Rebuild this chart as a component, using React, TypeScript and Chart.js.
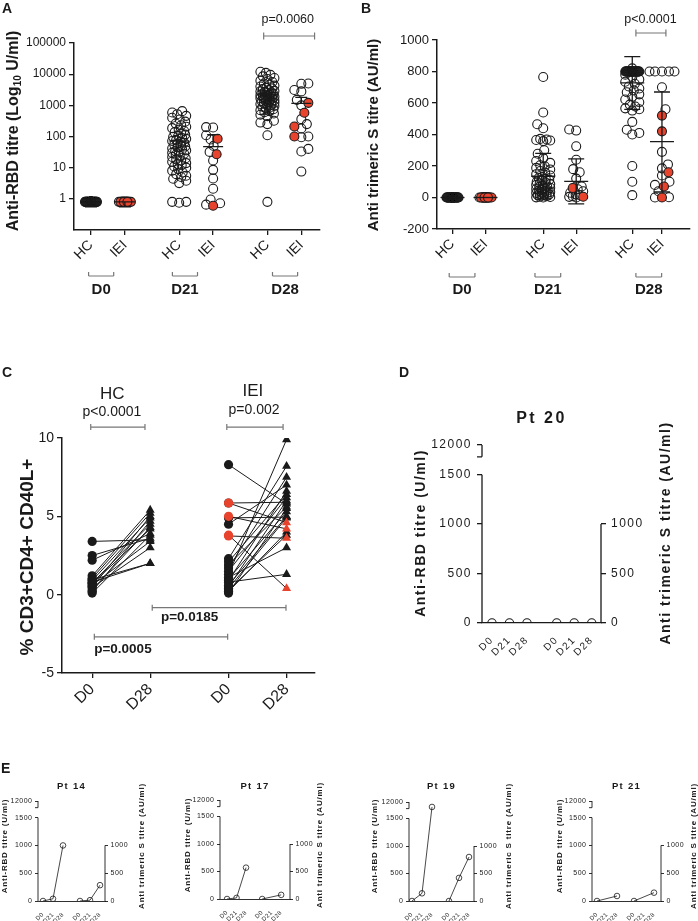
import React, { useEffect, useRef } from 'react';
import { Chart, registerables } from 'chart.js';

Chart.register(...registerables);

const FONT = "'Liberation Sans', Arial, Helvetica, sans-serif";
Chart.defaults.font.family = FONT;
Chart.defaults.color = '#1a1a1a';

const INK = '#1a1a1a';
const RED = '#e8432d';
const GREY = '#777777';
const CLEAR = 'rgba(255,255,255,0)';

/* ================= Panels A & B : categories ================= */
const groupLabels = ['HC', 'IEI', 'HC', 'IEI', 'HC', 'IEI'];
const dayLabels = ['D0', 'D21', 'D28'];
const rbdTicks = [1, 10, 100, 1000, 10000, 100000];
const sTicks = [-200, 0, 200, 400, 600, 800, 1000];

/* Panel A : anti-RBD titre (U/ml) */
const rbdHcD0 = [
  0.8, 0.8, 0.8, 0.8, 0.8, 0.8, 0.8, 0.8, 0.8, 0.8, 0.8, 0.8,
  0.8, 0.8, 0.8, 0.8, 0.8, 0.8, 0.8, 0.8, 0.8, 0.8, 0.8, 0.8,
  0.8, 0.8, 0.8, 0.8, 0.8, 0.8, 0.8, 0.8, 0.8, 0.8, 0.8, 0.8,
  0.8, 0.8, 0.8, 0.8, 0.8, 0.8, 0.8, 0.8, 0.8, 0.8, 0.8, 0.8,
  0.8, 0.8, 0.8, 0.8, 0.8, 0.8, 0.8, 0.8, 0.8, 0.8, 0.8, 0.8,
];
const rbdIeiD0Open = [0.8, 0.8, 0.8, 0.8, 0.8, 0.8, 0.8, 0.8, 0.8, 0.8, 0.8, 0.8, 0.8, 0.8, 0.8];
const rbdIeiD0Red = [0.8, 0.8, 0.8, 0.8];
const rbdHcD21 = [
  650, 590, 520, 460, 400, 350, 300, 260, 230, 205, 185, 165, 150, 138, 126, 115, 105, 98, 90, 84,
  78, 72, 67, 63, 59, 55, 51, 48, 45, 42, 39, 36, 34, 32, 30, 28, 26, 24, 22, 20,
  18.5, 17, 15.5, 14, 13, 12, 11, 10, 9, 8, 7, 6.2, 5.5, 5, 4.4, 3.8, 3.2, 0.8, 0.8, 0.75,
];
const rbdIeiD21Open = [200, 195, 110, 80, 50, 32, 17, 8.5, 4.5, 2.1, 0.95, 0.72, 0.65];
const rbdIeiD21Red = [85, 27, 0.6];
const rbdHcD28 = [
  12000, 11000, 9500, 8500, 7500, 7000, 6200, 5600, 5000, 4600, 4300, 4000, 3700, 3500, 3300, 3100,
  2900, 2800, 2700, 2600, 2500, 2400, 2300, 2200, 2150, 2100, 2000, 1950, 1900, 1850, 1800, 1750,
  1700, 1650, 1600, 1550, 1500, 1450, 1400, 1350, 1300, 1250, 1200, 1150, 1100, 1050, 1000, 950,
  900, 850, 800, 750, 700, 650, 600, 550, 500, 450, 320, 280, 250, 110, 0.8,
];
const rbdIeiD28Open = [5000, 4900, 3100, 2800, 1500, 1000, 360, 250, 180, 100, 95, 40, 33, 7.5];
const rbdIeiD28Red = [1200, 580, 210, 100];
const rbdMean = [0.8, 0.8, 72, 47, 2300, 1150];
const rbdLow = [0.55, 0.55, 72, 47, 520, 1150];
const rbdHigh = [0.8, 0.8, 72, 115, 2300, 1800];

/* Panel B : anti trimeric S titre (AU/ml) */
const sHcD0 = [
  0, 0, 0, 0, 0, 0, 0, 0, 0, 0, 0, 0, 0, 0, 0, 0, 0, 0, 0, 0,
  0, 0, 0, 0, 0, 0, 0, 0, 0, 0, 0, 0, 0, 0, 0, 0, 0, 0, 0, 0,
  0, 0, 0, 0, 0, 0, 0, 0, 0, 0, 0, 0, 0, 0, 0, 0, 0, 0, 0, 0,
];
const sIeiD0Open = [0, 0, 0, 0, 0, 0, 0, 0, 0, 0, 0, 0, 0, 0, 0];
const sIeiD0Red = [0, 0, 0, 0];
const sHcD21 = [
  765, 540, 465, 440, 372, 368, 365, 362, 358, 300, 278, 250, 232, 220, 205, 198, 188, 178, 168, 158,
  148, 140, 130, 124, 118, 112, 106, 100, 95, 90, 85, 80, 75, 70, 66, 62, 58, 54, 50, 46,
  42, 38, 35, 32, 29, 26, 23, 20, 17, 14, 11, 8, 5, 3, 1, 0,
];
const sIeiD21Open = [432, 425, 325, 240, 180, 160, 120, 70, 52, 40, 30, 20, 14, 8, 4, 0];
const sIeiD21Red = [60, 5];
const sHcD28 = [
  820, 800, 800, 800, 800, 800, 800, 800, 800, 800, 800, 800, 800, 800, 800, 800, 800, 800,
  800, 800, 800, 800, 800, 800, 800, 800, 800, 800, 800, 800, 800, 800, 800, 800, 800,
  780, 765, 750, 735, 722, 705, 692, 680, 668, 655, 640, 622, 605, 590, 578, 566, 560, 552,
  480, 430, 410, 400, 200, 100, 15,
];
const sIeiD28Open = [800, 800, 800, 800, 800, 700, 560, 290, 210, 185, 140, 100, 80, 40, 2, 0];
const sIeiD28Red = [520, 420, 160, 70, 0];
const sMean = [0, 0, 135, 103, 728, 355];
const sLow = [0, 0, -10, -40, 560, 35];
const sHigh = [0, 0, 280, 245, 895, 670];

/* ================= Panel C : % CD3+CD4+ CD40L+ ================= */
const cTickLabels = ['D0', 'D28', 'D0', 'D28'];
const cTicks = [-5, 0, 5, 10];
const cHcD0 = [3.4, 2.5, 2.2, 1.2, 1.05, 0.95, 0.9, 0.8, 0.75, 0.7, 0.6, 0.5, 0.45, 0.3, 0.2, 0.1];
const cHcD28 = [3.5, 3.6, 3.9, 5.4, 5.2, 2.0, 4.9, 2.0, 4.5, 4.2, 3.4, 5.0, 3.0, 4.3, 4.7, 3.8];
const cIeiD0 = [8.3, 5.85, 5.85, 5.0, 4.9, 4.5, 3.8, 3.75, 2.3, 2.1, 1.9, 1.7, 1.5, 1.3, 1.1, 1.0, 0.9, 0.8, 0.6, 0.5, 0.4, 0.3, 0.2, 0.1];
const cIeiD28 = [5.8, 5.9, 4.6, 4.2, 4.95, 7.0, 0.4, 3.6, 8.2, 6.4, 5.6, 7.5, 6.2, 9.9, 3.0, 5.3, 6.6, 1.3, 5.0, 6.0, 4.9, 3.8, 4.0, 5.5];
const cIeiRed = [0, 0, 1, 1, 0, 0, 1, 1, 0, 0, 0, 0, 0, 0, 0, 0, 0, 0, 0, 0, 0, 0, 0, 0];

/* ================= Panels D & E : individual patients ================= */
const visitLabels = ['D0', 'D21', 'D28'];
const rbdAxisTicks = [0, 500, 1000, 1500, 12000];
const sAxisTicks = [0, 500, 1000];
const rbdPt20 = [0, 0, 0];
const sPt20 = [0, 0, 0];
const rbdPt14 = [0, 40, 1000];
const sPt14 = [0, 15, 285];
const rbdPt17 = [0, 20, 570];
const sPt17 = [0, null, 75];
const rbdPt19 = [0, 140, 10500];
const sPt19 = [0, 420, 800];
const rbdPt21 = [0, null, 90];
const sPt21 = [0, null, 150];

/* ================= helpers ================= */
type Box = { L: number; T: number; W: number; H: number };
type Area = { l: number; t: number; r: number; b: number };

const fitW = (w: number) => (s: any) => {
  s.width = w; s.paddingTop = 0; s.paddingBottom = 0; s.paddingLeft = 0; s.paddingRight = 0;
};
const fitH = (h: number) => (s: any) => {
  s.height = h; s.paddingLeft = 0; s.paddingRight = 0; s.paddingTop = 0; s.paddingBottom = 0;
};

function txt(ctx: any, s: string, x: number, y: number, font: string, o: any = {}) {
  ctx.save();
  ctx.font = font;
  ctx.fillStyle = o.color || INK;
  ctx.textAlign = o.align || 'center';
  ctx.textBaseline = 'middle';
  ctx.letterSpacing = (o.sp || 0) + 'px';
  ctx.translate(x, y);
  if (o.rot) ctx.rotate(-Math.PI / 2);
  ctx.fillText(s, 0, 0);
  ctx.restore();
}

function bracket(ctx: any, x1: number, x2: number, y: number, up: number, down: number, lw = 1.2) {
  ctx.save();
  ctx.strokeStyle = GREY;
  ctx.lineWidth = lw;
  ctx.beginPath();
  ctx.moveTo(x1, y); ctx.lineTo(x2, y);
  ctx.moveTo(x1, y - up); ctx.lineTo(x1, y + down);
  ctx.moveTo(x2, y - up); ctx.lineTo(x2, y + down);
  ctx.stroke();
  ctx.restore();
}

/* deterministic beeswarm layout (pixel offsets) */
function spreadPx(vals: number[], toPx: (v: number) => number, maxHalf: number) {
  const dmin = 7;
  const order = vals.map((_, i) => i).sort((a, b) => vals[a] - vals[b]);
  const cands: number[] = [0];
  for (let d = 0.5; d <= maxHalf + 1e-9; d += 0.5) cands.push(d, -d);
  const placed: { x: number; y: number }[] = [];
  const off = vals.map(() => 0);
  order.forEach((i, n) => {
    const yp = toPx(vals[i]);
    let best = 0, bestScore = -1;
    for (const c0 of cands) {
      const c = n % 2 ? -c0 : c0;
      let m = Infinity;
      for (const p of placed) {
        const dy = p.y - yp;
        if (Math.abs(dy) >= dmin) continue;
        const d = Math.hypot(p.x - c, dy);
        if (d < m) m = d;
      }
      if (m >= dmin) { best = c; break; }
      if (m > bestScore) { bestScore = m; best = c; }
    }
    off[i] = best;
    placed.push({ x: best, y: yp });
  });
  return off;
}

function swarmSets(pos: number, open: number[], red: number[], toPx: (v: number) => number, maxHalf: number, pxu: number) {
  const n = open.length + red.length;
  const vals: number[] = [];
  const isRed: boolean[] = [];
  let o = 0, k = 0;
  for (let i = 0; i < n; i++) {
    if (k < red.length && i === Math.floor(((k + 0.5) * n) / red.length)) { vals.push(red[k++]); isRed.push(true); }
    else { vals.push(open[o++]); isRed.push(false); }
  }
  const off = spreadPx(vals, toPx, maxHalf);
  const pts = vals.map((v, i) => ({ x: pos + off[i] / pxu, y: v }));
  const base = { pointRadius: 4.5, pointBorderColor: INK, pointBorderWidth: 1.1, showLine: false };
  return [
    { ...base, data: pts.filter((_, i) => !isRed[i]), pointBackgroundColor: CLEAR, order: 2 },
    { ...base, data: pts.filter((_, i) => isRed[i]), pointBackgroundColor: RED, order: 1 },
  ];
}

function errorBars(pos: number[], mean: number[], lo: number[], hi: number[], mh: number, ch: number) {
  return {
    id: 'errbars',
    afterDatasetsDraw(chart: any) {
      const { ctx, scales: { x, y } } = chart;
      ctx.save();
      ctx.strokeStyle = INK;
      ctx.lineWidth = 1.3;
      pos.forEach((p, i) => {
        const cx = x.getPixelForValue(p);
        const ym = y.getPixelForValue(mean[i]);
        const yl = y.getPixelForValue(lo[i]);
        const yh = y.getPixelForValue(hi[i]);
        ctx.beginPath();
        ctx.moveTo(cx - mh, ym); ctx.lineTo(cx + mh, ym);
        if (Math.abs(yl - ym) > 0.5) { ctx.moveTo(cx, ym); ctx.lineTo(cx, yl); ctx.moveTo(cx - ch, yl); ctx.lineTo(cx + ch, yl); }
        if (Math.abs(yh - ym) > 0.5) { ctx.moveTo(cx, ym); ctx.lineTo(cx, yh); ctx.moveTo(cx - ch, yh); ctx.lineTo(cx + ch, yh); }
        ctx.stroke();
      });
      ctx.restore();
    },
  };
}

const axisGrid = (tl: number, lw = 1.3) => ({ display: true, drawOnChartArea: false, drawTicks: true, tickLength: tl, color: INK, lineWidth: lw });
const axisBorder = (lw = 1.5) => ({ display: true, color: INK, width: lw });
const noPlugins = { legend: { display: false }, tooltip: { enabled: false } };

/* ================= Panel A ================= */
const boxA: Box = { L: 0, T: 0, W: 349, H: 322 };
const areaA: Area = { l: 74, t: 43, r: 320, b: 230 };
const posA = [1, 2, 3.6, 4.6, 6.2, 7.2];

function configA() {
  const xMin = 0.5, xMax = 7.75;
  const pxu = (areaA.r - areaA.l) / (xMax - xMin);
  const toPx = (v: number) => Math.log10(v) * 31;
  const groups: [number[], number[]][] = [
    [rbdHcD0, []], [rbdIeiD0Open, rbdIeiD0Red], [rbdHcD21, []],
    [rbdIeiD21Open, rbdIeiD21Red], [rbdHcD28, []], [rbdIeiD28Open, rbdIeiD28Red],
  ];
  const halves = [6, 6, 7, 7, 7, 8.5];
  const datasets = groups.flatMap(([o, r], g) => swarmSets(posA[g], o, r, toPx, halves[g], pxu));
  const annot = {
    id: 'annotA',
    afterDraw(chart: any) {
      const { ctx, scales: { x } } = chart;
      const f1 = 'bold 16px ' + FONT, f2 = 'bold 10px ' + FONT;
      const parts: [string, string, number][] = [['Anti-RBD titre (Log', f1, 0], ['10', f2, 4], [' U/ml)', f1, 0]];
      ctx.save();
      ctx.translate(14, 131);
      ctx.rotate(-Math.PI / 2);
      ctx.fillStyle = INK;
      ctx.textBaseline = 'middle';
      ctx.textAlign = 'left';
      let total = 0;
      parts.forEach(([t, f]) => { ctx.font = f; total += ctx.measureText(t).width; });
      let cx = -total / 2;
      parts.forEach(([t, f, dy]) => { ctx.font = f; ctx.fillText(t, cx, dy); cx += ctx.measureText(t).width; });
      ctx.restore();
      const centers = [1.3, 3.77, 6.72];
      centers.forEach((c, i) => {
        bracket(ctx, x.getPixelForValue(c - 0.37), x.getPixelForValue(c + 0.37), 276, 4, 0);
        txt(ctx, dayLabels[i], x.getPixelForValue(c), 290, 'bold 15px ' + FONT);
      });
      bracket(ctx, x.getPixelForValue(6.09), x.getPixelForValue(7.59), 36, 3.5, 3.5);
      txt(ctx, 'p=0.0060', x.getPixelForValue(6.8), 20, '12.5px ' + FONT);
    },
  };
  return {
    type: 'scatter',
    data: { datasets },
    options: {
      animation: false, responsive: false,
      layout: { padding: { top: areaA.t - boxA.T, right: boxA.L + boxA.W - areaA.r, left: 0, bottom: 0 } },
      plugins: noPlugins,
      scales: {
        x: {
          type: 'linear', min: xMin, max: xMax, afterFit: fitH(boxA.T + boxA.H - areaA.b),
          afterBuildTicks: (s: any) => { s.ticks = posA.map((v) => ({ value: v })); },
          ticks: { autoSkip: false, minRotation: 45, maxRotation: 45, callback: (_v: any, i: number) => groupLabels[i], font: { size: 14 }, color: INK, padding: 2 },
          grid: axisGrid(5), border: axisBorder(),
        },
        y: {
          type: 'logarithmic', min: 0.1, max: 100000, afterFit: fitW(areaA.l - boxA.L),
          afterBuildTicks: (s: any) => { s.ticks = rbdTicks.map((v) => ({ value: v })); },
          ticks: { callback: (v: any) => String(v), font: { size: 12 }, color: INK, padding: 3 },
          grid: axisGrid(5), border: axisBorder(),
        },
      },
    },
    plugins: [errorBars(posA, rbdMean, rbdLow, rbdHigh, 10, 6), annot],
  };
}

/* ================= Panel B ================= */
const boxB: Box = { L: 349, T: 0, W: 349, H: 322 };
const areaB: Area = { l: 437, t: 40, r: 690, b: 229 };
const posB = [1, 2, 3.75, 4.75, 6.45, 7.35];

function configB() {
  const xMin = 0.53, xMax = 8.2;
  const pxu = (areaB.r - areaB.l) / (xMax - xMin);
  const toPx = (v: number) => (v * 31.5) / 200;
  const groups: [number[], number[]][] = [
    [sHcD0, []], [sIeiD0Open, sIeiD0Red], [sHcD21, []],
    [sIeiD21Open, sIeiD21Red], [sHcD28, []], [sIeiD28Open, sIeiD28Red],
  ];
  const halves = [6, 6, 7, 7, 7, 12.5];
  const datasets = groups.flatMap(([o, r], g) => swarmSets(posB[g], o, r, toPx, halves[g], pxu));
  const annot = {
    id: 'annotB',
    afterDraw(chart: any) {
      const { ctx, scales: { x } } = chart;
      txt(ctx, 'Anti trimeric S titre (AU/ml)', 25, 135, 'bold 15px ' + FONT, { rot: true });
      const centers = [1.29, 3.89, 6.95];
      centers.forEach((c, i) => {
        bracket(ctx, x.getPixelForValue(c - 0.39), x.getPixelForValue(c + 0.39), 277, 4, 0);
        txt(ctx, dayLabels[i], x.getPixelForValue(c), 290, 'bold 15px ' + FONT);
      });
      bracket(ctx, x.getPixelForValue(6.56), x.getPixelForValue(7.47), 33, 3.5, 3.5);
      txt(ctx, 'p<0.0001', x.getPixelForValue(7.0), 20, '12.5px ' + FONT);
    },
  };
  return {
    type: 'scatter',
    data: { datasets },
    options: {
      animation: false, responsive: false,
      layout: { padding: { top: areaB.t - boxB.T, right: boxB.L + boxB.W - areaB.r, left: 0, bottom: 0 } },
      plugins: noPlugins,
      scales: {
        x: {
          type: 'linear', min: xMin, max: xMax, afterFit: fitH(boxB.T + boxB.H - areaB.b),
          afterBuildTicks: (s: any) => { s.ticks = posB.map((v) => ({ value: v })); },
          ticks: { autoSkip: false, minRotation: 45, maxRotation: 45, callback: (_v: any, i: number) => groupLabels[i], font: { size: 14 }, color: INK, padding: 2 },
          grid: axisGrid(5), border: axisBorder(),
        },
        y: {
          type: 'linear', min: -200, max: 1000, afterFit: fitW(areaB.l - boxB.L),
          afterBuildTicks: (s: any) => { s.ticks = sTicks.map((v) => ({ value: v })); },
          ticks: { callback: (v: any) => String(v), font: { size: 13 }, color: INK, padding: 3 },
          grid: axisGrid(5), border: axisBorder(),
        },
      },
    },
    plugins: [errorBars(posB, sMean, sLow, sHigh, 12, 8), annot],
  };
}

/* ================= Panel C ================= */
const boxC: Box = { L: 0, T: 322, W: 349, H: 400 };
const areaC: Area = { l: 62, t: 438, r: 315, b: 673 };
const posC = [1, 2, 3.35, 4.35];

function configC() {
  const lineSet = (x0: number, x1: number, a: number, b: number) => ({
    data: [{ x: x0, y: a }, { x: x1, y: b }], borderColor: INK, borderWidth: 1, pointRadius: 0, order: 3,
  });
  const datasets: any[] = [];
  cHcD0.forEach((v, i) => datasets.push(lineSet(posC[0], posC[1], v, cHcD28[i])));
  cIeiD0.forEach((v, i) => datasets.push(lineSet(posC[2], posC[3], v, cIeiD28[i])));
  const ptSet = (x: number, vals: number[], style: string, r: number, color: string, order: number) => ({
    data: vals.map((v) => ({ x, y: v })), showLine: false, pointStyle: style, pointRadius: r,
    pointBackgroundColor: color, pointBorderColor: color, pointBorderWidth: 0, order,
  });
  datasets.push(ptSet(posC[0], cHcD0, 'circle', 4.6, INK, 2));
  datasets.push(ptSet(posC[1], cHcD28, 'triangle', 5.2, INK, 2));
  datasets.push(ptSet(posC[2], cIeiD0.filter((_, i) => !cIeiRed[i]), 'circle', 4.6, INK, 2));
  datasets.push(ptSet(posC[3], cIeiD28.filter((_, i) => !cIeiRed[i]), 'triangle', 5.2, INK, 2));
  datasets.push(ptSet(posC[2], cIeiD0.filter((_, i) => cIeiRed[i]), 'circle', 4.6, RED, 1));
  datasets.push(ptSet(posC[3], cIeiD28.filter((_, i) => cIeiRed[i]), 'triangle', 5.2, RED, 1));

  const annot = {
    id: 'annotC',
    afterDraw(chart: any) {
      const { ctx, scales: { x, y } } = chart;
      const X = (v: number) => x.getPixelForValue(v);
      const Y = (v: number) => y.getPixelForValue(v);
      txt(ctx, '% CD3+CD4+ CD40L+', 28, 557 - boxC.T, 'bold 19px ' + FONT, { rot: true });
      txt(ctx, 'HC', X(1.345), Y(12.8), '17px ' + FONT);
      txt(ctx, 'p<0.0001', X(1.34), Y(11.67), '14px ' + FONT);
      bracket(ctx, X(0.975), X(1.91), Y(10.7), 3, 3);
      txt(ctx, 'IEI', X(3.77), Y(12.95), '17px ' + FONT);
      txt(ctx, 'p=0.002', X(3.79), Y(11.8), '14px ' + FONT);
      bracket(ctx, X(3.32), X(4.29), Y(10.7), 3, 3);
      bracket(ctx, X(2.035), X(4.34), Y(-0.83), 3, 3);
      txt(ctx, 'p=0.0185', X(2.68), Y(-1.47), 'bold 13.5px ' + FONT);
      bracket(ctx, X(1.037), X(3.335), Y(-2.69), 3, 3);
      txt(ctx, 'p=0.0005', X(1.53), Y(-3.46), 'bold 13.5px ' + FONT);
    },
  };
  return {
    type: 'line',
    data: { datasets },
    options: {
      animation: false, responsive: false,
      layout: { padding: { top: areaC.t - boxC.T, left: 0, right: boxC.L + boxC.W - areaC.r, bottom: 0 } },
      plugins: noPlugins,
      scales: {
        x: {
          type: 'linear', min: 0.48, max: 4.84, afterFit: fitH(boxC.T + boxC.H - areaC.b),
          afterBuildTicks: (s: any) => { s.ticks = posC.map((v) => ({ value: v })); },
          ticks: { autoSkip: false, minRotation: 45, maxRotation: 45, callback: (_v: any, i: number) => cTickLabels[i], font: { size: 16 }, color: INK, padding: 2 },
          grid: axisGrid(5), border: axisBorder(),
        },
        y: {
          type: 'linear', min: -5, max: 10, afterFit: fitW(areaC.l - boxC.L),
          afterBuildTicks: (s: any) => { s.ticks = cTicks.map((v) => ({ value: v })); },
          ticks: { callback: (v: any) => String(v), font: { size: 14 }, color: INK, padding: 3 },
          grid: axisGrid(5), border: axisBorder(),
        },
      },
    },
    plugins: [annot],
  };
}

/* ================= Panels D & E ================= */
const visitX = [0, 1, 2, 3.7, 4.7, 5.7];
const BREAK_AT = 1500, SEG_LO = 10000, SEG_HI = 12000, FAKE_LO = 1680, FAKE_HI = 1800;
const brk = (v: number) => (v <= BREAK_AT ? v : FAKE_LO + ((v - SEG_LO) / (SEG_HI - SEG_LO)) * (FAKE_HI - FAKE_LO));

const BIG = { tick: 12, sp: 1.5, tl: 5, pad: 5, xl: 10, xpad: 3, tt: 16, tsp: 2.5, at: 14, asp: 1.5, r: 4.2, lw: 1.1, bw: 1.3 };
const SMALL = { tick: 7, sp: 0.5, tl: 3, pad: 2.5, xl: 6, xpad: 2, tt: 9.5, tsp: 1.3, at: 8, asp: 0.8, r: 2.8, lw: 0.8, bw: 0.9 };

type VisitSpec = {
  box: Box; area: Area; xMin: number; xMax: number; rbd: (number | null)[]; s: (number | null)[];
  title: string; titleY: number; lTitleX: number; rTitleX: number; titleCY: number; big: boolean;
};

function visitConfig(v: VisitSpec) {
  const P = v.big ? BIG : SMALL;
  const b = v.box, a = v.area;
  const left = v.rbd.map((val, i) => ({ x: visitX[i], y: val === null ? null : brk(val) }));
  const right = v.s.map((val, i) => ({ x: visitX[i + 3], y: val }));
  const ds = (data: any[], axis: string) => ({
    data, yAxisID: axis, borderColor: INK, borderWidth: P.lw, pointRadius: P.r, pointBorderWidth: P.lw,
    pointBorderColor: INK, pointBackgroundColor: CLEAR, spanGaps: true, tension: 0,
  });
  const deco = {
    id: 'visitDeco',
    beforeUpdate(chart: any) { chart.ctx.letterSpacing = P.sp + 'px'; },
    beforeDraw(chart: any) { chart.ctx.letterSpacing = P.sp + 'px'; },
    afterDraw(chart: any) {
      const { ctx, chartArea: ca, scales: { y, y2 } } = chart;
      ctx.save();
      ctx.strokeStyle = INK;
      ctx.lineWidth = P.bw;
      ctx.beginPath();
      ctx.moveTo(ca.left, y.getPixelForValue(0)); ctx.lineTo(ca.left, y.getPixelForValue(BREAK_AT));
      ctx.moveTo(ca.left, y.getPixelForValue(FAKE_LO)); ctx.lineTo(ca.left, y.getPixelForValue(FAKE_HI));
      ctx.moveTo(ca.left - P.tl, y.getPixelForValue(FAKE_LO)); ctx.lineTo(ca.left, y.getPixelForValue(FAKE_LO));
      ctx.moveTo(ca.right, y2.getPixelForValue(0)); ctx.lineTo(ca.right, y2.getPixelForValue(1000));
      ctx.stroke();
      ctx.restore();
      txt(ctx, v.title, (ca.left + ca.right) / 2, v.titleY - b.T, 'bold ' + P.tt + 'px ' + FONT, { sp: P.tsp });
      txt(ctx, 'Anti-RBD titre (U/ml)', v.lTitleX - b.L, v.titleCY - b.T, 'bold ' + P.at + 'px ' + FONT, { rot: true, sp: P.asp });
      txt(ctx, 'Anti trimeric S titre (AU/ml)', v.rTitleX - b.L, v.titleCY - b.T, 'bold ' + P.at + 'px ' + FONT, { rot: true, sp: P.asp });
    },
  };
  const yGrid = { display: true, drawOnChartArea: false, drawTicks: true, tickLength: P.tl, color: INK, lineWidth: P.bw };
  return {
    type: 'line',
    data: { datasets: [ds(left, 'y'), ds(right, 'y2')] },
    options: {
      animation: false, responsive: false,
      layout: { padding: { top: a.t - b.T, left: 0, right: 0, bottom: 0 } },
      plugins: noPlugins,
      scales: {
        x: {
          type: 'linear', min: v.xMin, max: v.xMax, afterFit: fitH(b.T + b.H - a.b),
          afterBuildTicks: (s: any) => { s.ticks = visitX.map((t) => ({ value: t })); },
          ticks: { autoSkip: false, minRotation: 45, maxRotation: 45, callback: (_v: any, i: number) => visitLabels[i % 3], font: { size: P.xl }, color: INK, padding: P.xpad },
          grid: { display: false }, border: { display: true, color: INK, width: P.bw },
        },
        y: {
          type: 'linear', position: 'left', min: 0, max: FAKE_HI, afterFit: fitW(a.l - b.L),
          afterBuildTicks: (s: any) => { s.ticks = rbdAxisTicks.map((t) => ({ value: brk(t) })); },
          ticks: { callback: (_v: any, i: number) => String(rbdAxisTicks[i]), font: { size: P.tick }, color: INK, padding: P.pad },
          grid: yGrid, border: { display: false },
        },
        y2: {
          type: 'linear', position: 'right', min: 0, max: FAKE_HI, afterFit: fitW(b.L + b.W - a.r),
          afterBuildTicks: (s: any) => { s.ticks = sAxisTicks.map((t) => ({ value: t })); },
          ticks: { callback: (_v: any, i: number) => String(sAxisTicks[i]), font: { size: P.tick }, color: INK, padding: P.pad },
          grid: yGrid, border: { display: false },
        },
      },
    },
    plugins: [deco],
  };
}

const specD: VisitSpec = {
  box: { L: 349, T: 322, W: 349, H: 400 }, area: { l: 482, t: 445, r: 601, b: 623 },
  xMin: -0.57, xMax: 6.23, rbd: rbdPt20, s: sPt20, title: 'Pt 20', titleY: 419,
  lTitleX: 421, rTitleX: 666, titleCY: 533, big: true,
};
const specsE: VisitSpec[] = [
  { box: { L: 0, T: 722, W: 175, H: 199 }, area: { l: 38, t: 801, r: 105, b: 901 }, xMin: -0.5, xMax: 6.2,
    rbd: rbdPt14, s: sPt14, title: 'Pt 14', titleY: 786, lTitleX: 5, rTitleX: 142, titleCY: 846, big: false },
  { box: { L: 175, T: 722, W: 174, H: 199 }, area: { l: 220, t: 800, r: 290, b: 899 }, xMin: -0.74, xMax: 6.63,
    rbd: rbdPt17, s: sPt17, title: 'Pt 17', titleY: 786, lTitleX: 188, rTitleX: 320, titleCY: 845, big: false },
  { box: { L: 349, T: 722, W: 175, H: 199 }, area: { l: 409, t: 802, r: 474, b: 901 }, xMin: -0.3, xMax: 6.2,
    rbd: rbdPt19, s: sPt19, title: 'Pt 19', titleY: 786, lTitleX: 375, rTitleX: 509, titleCY: 846, big: false },
  { box: { L: 524, T: 722, W: 174, H: 199 }, area: { l: 592, t: 801, r: 661, b: 901 }, xMin: -0.5, xMax: 6.4,
    rbd: rbdPt21, s: sPt21, title: 'Pt 21', titleY: 786, lTitleX: 560, rTitleX: 694, titleCY: 846, big: false },
];

/* ================= components ================= */
function ChartBox({ box, make }: { box: Box; make: () => any }) {
  const ref = useRef<HTMLCanvasElement | null>(null);
  useEffect(() => {
    if (!ref.current) return;
    const chart = new Chart(ref.current, make());
    return () => chart.destroy();
  }, []);
  return (
    <canvas ref={ref} width={box.W} height={box.H}
      style={{ position: 'absolute', left: box.L, top: box.T, width: box.W, height: box.H }} />
  );
}

function Letter({ x, y, t }: { x: number; y: number; t: string }) {
  return (
    <div style={{ position: 'absolute', left: x, top: y, font: 'bold 14px ' + FONT, lineHeight: '14px', color: INK }}>{t}</div>
  );
}

export default function App() {
  return (
    <div style={{ position: 'absolute', left: 0, top: 0, width: 698, height: 921, background: '#ffffff', overflow: 'hidden' }}>
      <ChartBox box={boxA} make={configA} />
      <ChartBox box={boxB} make={configB} />
      <ChartBox box={boxC} make={configC} />
      <ChartBox box={specD.box} make={() => visitConfig(specD)} />
      {specsE.map((s) => (
        <ChartBox key={s.title} box={s.box} make={() => visitConfig(s)} />
      ))}
      <Letter x={2} y={1} t="A" />
      <Letter x={361} y={1} t="B" />
      <Letter x={2} y={365} t="C" />
      <Letter x={399} y={365} t="D" />
      <Letter x={1} y={761} t="E" />
    </div>
  );
}
